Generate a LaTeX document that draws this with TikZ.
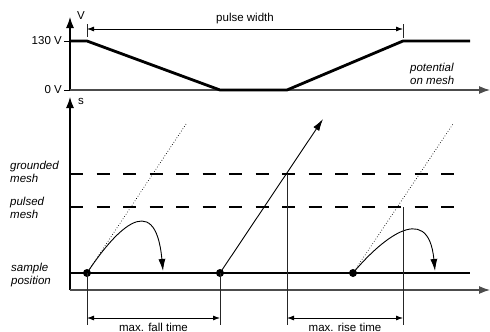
\documentclass[tikz,border=0pt]{standalone}
\usepackage{fontspec}
\setmainfont{Liberation Sans}
\usetikzlibrary{arrows.meta}
\begin{document}
\begin{tikzpicture}[x=1pt,y=-1pt,font=\fontsize{11.5}{13}\selectfont,
  axisline/.style={line width=1.2pt,-{Latex[length=11pt,width=8pt]}},
  haxis/.style={line width=1.2pt,black!70,-{Latex[length=11pt,width=8pt]}},
  wave/.style={line width=2.8pt},
  thin/.style={line width=0.8pt,black!85},
  dimarrow/.style={line width=0.8pt,{Latex[length=7pt,width=5pt]}-{Latex[length=7pt,width=5pt]}},
  meshline/.style={line width=1.3pt,dash pattern=on 13pt off 13.5pt},
  trajarrow/.style={line width=0.9pt,-{Latex[length=12pt,width=7pt]}},
  dotline/.style={line width=0.7pt,dotted},
  dotnode/.style={circle,fill,inner sep=0pt,minimum size=8pt},
  lbl/.style={inner sep=0pt,font=\fontsize{11.5}{13}\selectfont\itshape,align=left},
  plain/.style={inner sep=0pt}]
\useasboundingbox (0,0) rectangle (490,332);
% ---------- top plot ----------
\coordinate (V0) at (70,90);
\coordinate (Vtop) at (70,17);
\coordinate (Tend) at (490,90);
\coordinate (V130) at (70,41);
\coordinate (t130) at (64,41);
\coordinate (t0) at (64,90);
\draw[axisline] (V0) -- (Vtop);
\draw[haxis] (V0) -- (Tend);
\draw[line width=1pt] (t130) -- (V130);
\draw[line width=1pt] (t0) -- (V0);
\node[plain,anchor=east] (l130) at (62,41) {130 V};
\node[plain,anchor=east] (l0) at (62,90) {0 V};
\node[plain] (lV) at (81,16) {V};
\coordinate (w1) at (70,41);
\coordinate (w2) at (87,41);
\coordinate (w3) at (220,90);
\coordinate (w4) at (287,90);
\coordinate (w5) at (403,41);
\coordinate (w6) at (470,41);
\draw[wave] (w1) -- (w2) -- (w3) -- (w4) -- (w5) -- (w6);
\coordinate (pw1t) at (87,24);
\coordinate (pw1b) at (87,37);
\coordinate (pw2t) at (403,24);
\coordinate (pw2b) at (403,38);
\draw[thin] (pw1t) -- (pw1b);
\draw[thin] (pw2t) -- (pw2b);
\coordinate (pwa) at (87,29);
\coordinate (pwb) at (403,29);
\draw[dimarrow] (pwa) -- (pwb);
\node[plain] (pwl) at (245,19) {pulse width};
\node[lbl,anchor=west] (pot) at (410,74) {potential\\on mesh};
% ---------- bottom plot ----------
\coordinate (S0) at (70,290);
\coordinate (Stop) at (70,97);
\coordinate (Send) at (490,290);
\draw[axisline] (S0) -- (Stop);
\draw[haxis] (S0) -- (Send);
\node[plain] (ls) at (81,101) {s};
\coordinate (g1) at (70,174);
\coordinate (g2) at (458,174);
\coordinate (p1) at (70,207);
\coordinate (p2) at (458,207);
\draw[meshline] (g1) -- (g2);
\draw[meshline] (p1) -- (p2);
\node[lbl,anchor=west] (lg) at (10,171.5) {grounded\\mesh};
\node[lbl,anchor=west] (lp) at (10,207.5) {pulsed\\mesh};
\node[lbl,anchor=west] (lsp) at (11,275) {sample\\position};
\coordinate (sp1) at (70,273);
\coordinate (sp2) at (470,273);
\draw[wave] (sp1) -- (sp2);
% particles
\node[dotnode] (A) at (87,273) {};
\node[dotnode] (B) at (220,273) {};
\node[dotnode] (C) at (353,273) {};
\coordinate (Ad) at (186,124);
\coordinate (Cd) at (453,124);
\coordinate (Bt) at (323,119);
\draw[dotline] (A.center) -- (Ad);
\draw[dotline] (C.center) -- (Cd);
\draw[trajarrow] (B.center) -- (Bt);
\coordinate (Ae) at (163,271);
\coordinate (Ce) at (435,271);
\draw[trajarrow] (A.center) .. controls (112,235) and (155,185) .. (Ae);
\draw[trajarrow] (C.center) .. controls (378,243) and (428,198) .. (Ce);
% verticals
\coordinate (va) at (87,325);
\coordinate (vb) at (220,325);
\coordinate (vc1) at (287,174);
\coordinate (vc) at (287,325);
\coordinate (vd1) at (403,207);
\coordinate (vd) at (403,325);
\draw[thin] (A.center) -- (va);
\draw[thin] (B.center) -- (vb);
\draw[thin] (vc1) -- (vc);
\draw[thin] (vd1) -- (vd);
\coordinate (fa) at (87,318);
\coordinate (fb) at (220,318);
\coordinate (ra) at (287,318);
\coordinate (rb) at (403,318);
\draw[dimarrow] (fa) -- (fb);
\draw[dimarrow] (ra) -- (rb);
\node[plain,anchor=base] (lf) at (153.5,331) {max. fall time};
\node[plain,anchor=base] (lr) at (345,331) {max. rise time};
\end{tikzpicture}
\end{document}
